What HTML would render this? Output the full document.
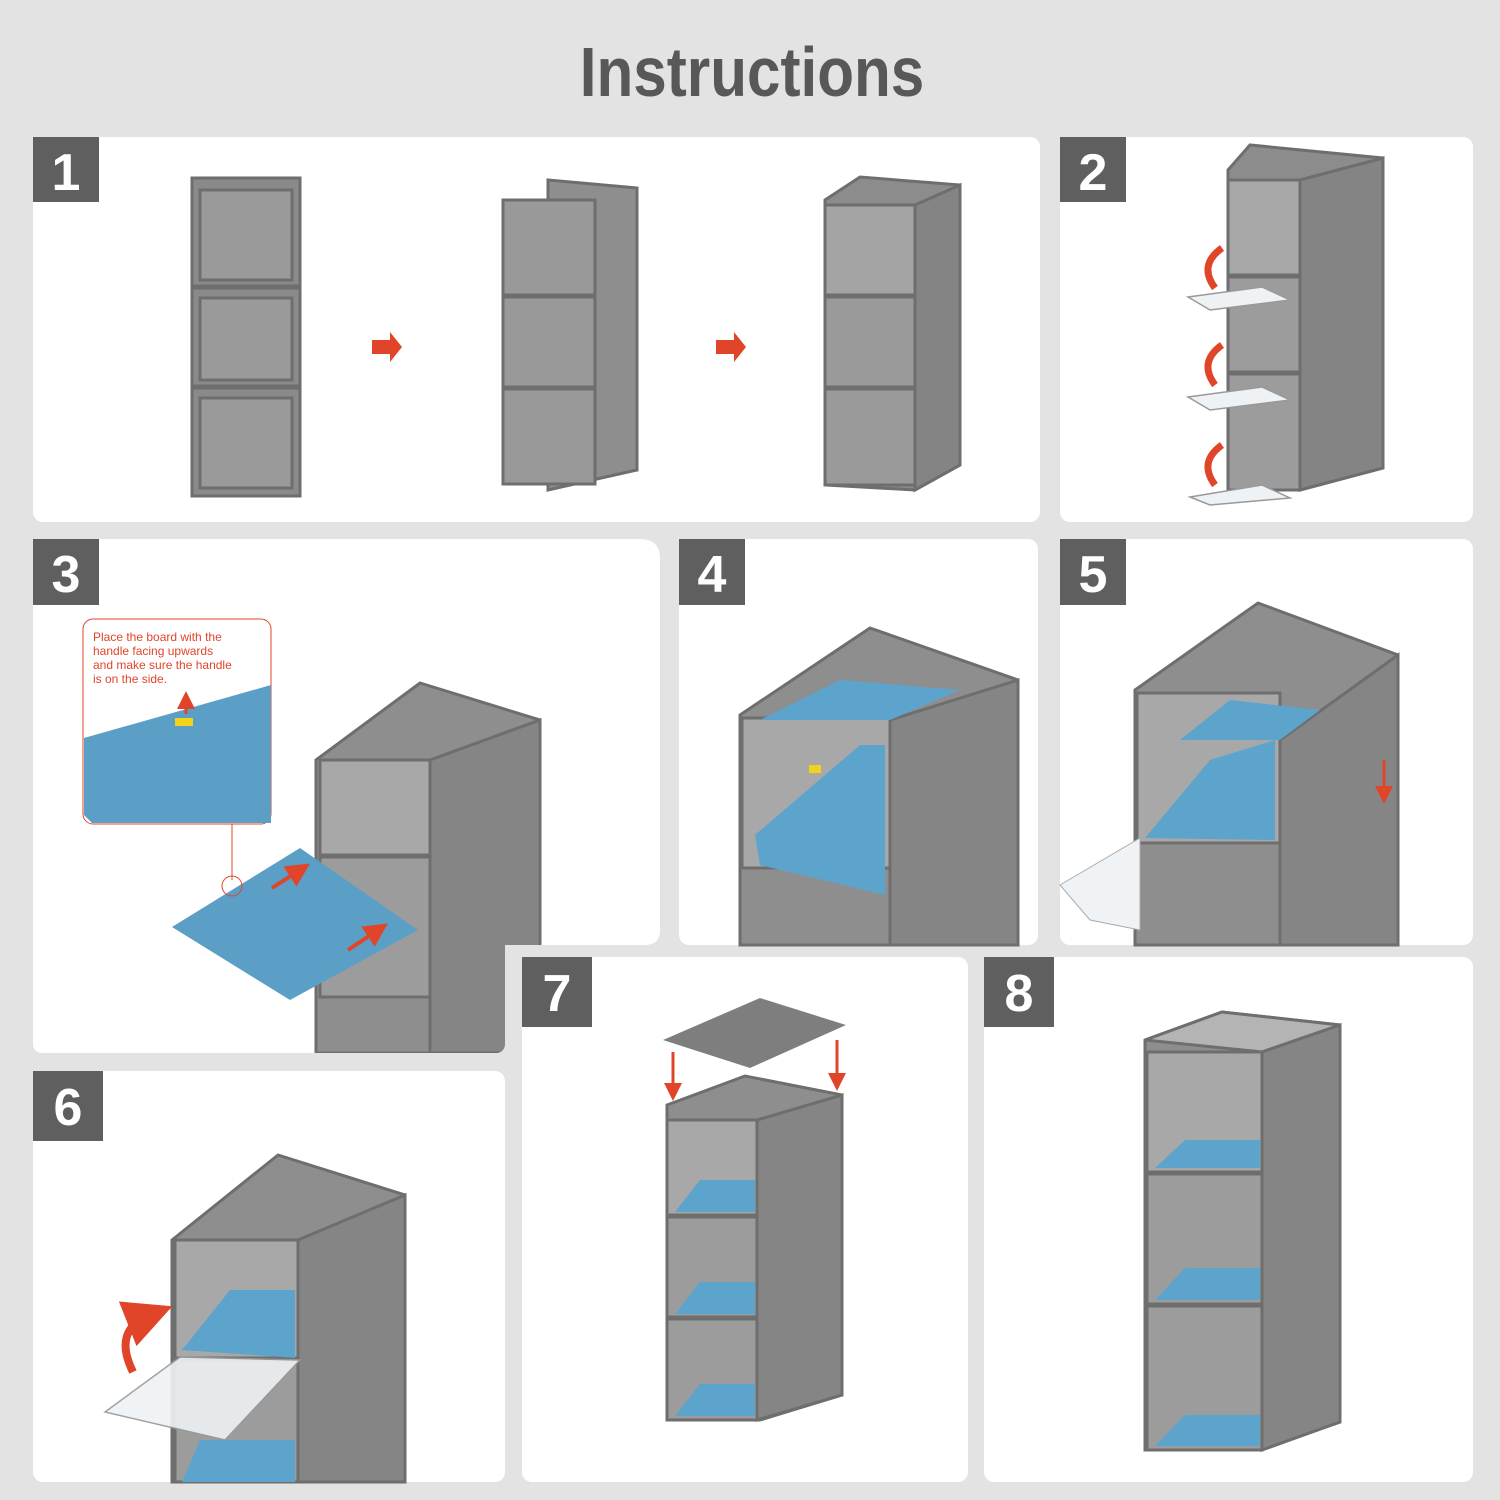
<!DOCTYPE html>
<html><head><meta charset="utf-8"><style>
body{margin:0;width:1500px;height:1500px;background:#e3e3e3;overflow:hidden}
svg{display:block}
</style></head><body>
<svg width="1500" height="1500" viewBox="0 0 1500 1500" xmlns="http://www.w3.org/2000/svg">
<defs>
<marker id="ah" markerWidth="6" markerHeight="6" refX="3" refY="3" orient="auto"><path d="M0,0L6,3L0,6z" fill="#e0452a"/></marker>
<clipPath id="c3"><path d="M43,539H640Q660,539 660,559V930Q660,945 645,945H505V1043Q505,1053 495,1053H43Q33,1053 33,1043V549Q33,539 43,539Z"/></clipPath>
</defs>
<rect width="1500" height="1500" fill="#e3e3e3"/>
<text x="0" y="96" transform="translate(752,0) scale(0.86,1)" text-anchor="middle" font-family="Liberation Sans, sans-serif" font-weight="bold" font-size="70" fill="#585858">Instructions</text>

<g fill="#fff">
<rect x="33" y="137" width="1007" height="385" rx="10"/>
<rect x="1060" y="137" width="413" height="385" rx="10"/>
<path d="M43,539H640Q660,539 660,559V930Q660,945 645,945H505V1043Q505,1053 495,1053H43Q33,1053 33,1043V549Q33,539 43,539Z"/>
<rect x="679" y="539" width="359" height="406" rx="10"/>
<rect x="1060" y="539" width="413" height="406" rx="10"/>
<rect x="522" y="957" width="446" height="525" rx="10"/>
<rect x="984" y="957" width="489" height="525" rx="10"/>
<rect x="33" y="1071" width="472" height="411" rx="10"/>
</g>

<g stroke="#6e6e6e" stroke-width="3">
<rect x="192" y="178" width="108" height="108" fill="#8a8a8a"/><rect x="192" y="288" width="108" height="98" fill="#8a8a8a"/><rect x="192" y="388" width="108" height="108" fill="#8a8a8a"/>
<rect x="200" y="190" width="92" height="90" fill="#9a9a9a"/><rect x="200" y="298" width="92" height="82" fill="#9a9a9a"/><rect x="200" y="398" width="92" height="90" fill="#9a9a9a"/>
</g>
<g stroke="#6e6e6e" stroke-width="3">
<polygon points="548,180 637,188 637,470 548,490" fill="#8e8e8e"/>
<rect x="503" y="200" width="92" height="95" fill="#999"/><rect x="503" y="297" width="92" height="90" fill="#999"/><rect x="503" y="389" width="92" height="95" fill="#999"/>
</g>
<g stroke="#6e6e6e" stroke-width="3">
<polygon points="825,200 860,177 960,185 960,465 915,490 825,485" fill="#8c8c8c"/>
<polygon points="915,205 960,185 960,465 915,490" fill="#848484"/>
<rect x="825" y="205" width="90" height="90" fill="#a4a4a4"/><rect x="825" y="297" width="90" height="90" fill="#9a9a9a"/><rect x="825" y="389" width="90" height="96" fill="#9a9a9a"/>
</g>
<polygon points="372,340 390,340 390,332 402,347 390,362 390,354 372,354" fill="#e0452a"/>
<polygon points="716,340 734,340 734,332 746,347 734,362 734,354 716,354" fill="#e0452a"/>

<g stroke="#6e6e6e" stroke-width="3">
<polygon points="1228,170 1250,145 1383,158 1383,468 1300,490 1228,490" fill="#8c8c8c"/>
<polygon points="1300,180 1383,158 1383,468 1300,490" fill="#848484"/>
<rect x="1228" y="180" width="72" height="95" fill="#a8a8a8"/><rect x="1228" y="277" width="72" height="95" fill="#9c9c9c"/><rect x="1228" y="374" width="72" height="116" fill="#9c9c9c"/>
</g>
<g fill="#eef2f4" stroke="#999" stroke-width="1.5">
<polygon points="1188,297 1262,287 1290,300 1210,310"/><polygon points="1188,397 1262,387 1290,400 1210,410"/><polygon points="1190,497 1262,485 1290,498 1210,505"/>
</g>
<g fill="none" stroke="#e0452a" stroke-width="7">
<path d="M1215,288 Q1198,265 1222,248"/><path d="M1215,385 Q1198,362 1222,345"/><path d="M1215,485 Q1198,462 1222,445"/>
</g>

<g clip-path="url(#c3)">
<g stroke="#6e6e6e" stroke-width="3">
<polygon points="316,760 420,683 540,720 540,1053 316,1053" fill="#8e8e8e"/>
<polygon points="430,760 540,720 540,1053 430,1053" fill="#858585"/>
<rect x="320" y="760" width="110" height="95" fill="#a8a8a8"/><rect x="320" y="857" width="110" height="140" fill="#9c9c9c"/>
</g>
<polygon points="172,927 300,848 418,930 290,1000" fill="#5b9fc6"/>
<rect x="83" y="619" width="188" height="205" rx="10" fill="#fff" stroke="#e0452a" stroke-width="1"/>
<polygon points="84,738 271,685 271,823 92,823 84,815" fill="#5b9fc6"/>
<rect x="175" y="718" width="18" height="8" fill="#f2d21b"/>
<line x1="186" y1="714" x2="186" y2="700" stroke="#e0452a" stroke-width="3" marker-end="url(#ah)"/>
<line x1="232" y1="824" x2="232" y2="880" stroke="#e0452a" stroke-width="1"/>
<circle cx="232" cy="886" r="10" fill="none" stroke="#e0452a"/>
<g font-family="Liberation Sans, sans-serif" font-size="12" fill="#e0452a">
<text x="93" y="641">Place the board with the</text><text x="93" y="655">handle facing upwards</text><text x="93" y="669">and make sure the handle</text><text x="93" y="683">is on the side.</text>
</g>
<line x1="272" y1="888" x2="300" y2="870" stroke="#e0452a" stroke-width="4" marker-end="url(#ah)"/>
<line x1="348" y1="950" x2="378" y2="930" stroke="#e0452a" stroke-width="4" marker-end="url(#ah)"/>
</g>

<g stroke="#6e6e6e" stroke-width="3">
<polygon points="740,715 870,628 1018,680 1018,945 890,945 740,945" fill="#8e8e8e"/>
<polygon points="890,720 1018,680 1018,945 890,945" fill="#858585"/>
<rect x="742" y="718" width="148" height="150" fill="#a8a8a8"/>
</g>
<polygon points="840,680 960,690 890,720 760,720" fill="#5ca4cc"/>
<polygon points="755,835 860,745 885,745 885,895 760,865" fill="#5ca4cc"/>
<rect x="809" y="765" width="12" height="8" fill="#f2d21b"/>

<g stroke="#6e6e6e" stroke-width="3">
<polygon points="1135,690 1258,603 1398,655 1398,945 1280,945 1135,945" fill="#8e8e8e"/>
<polygon points="1280,740 1398,655 1398,945 1280,945" fill="#858585"/>
<rect x="1137" y="693" width="143" height="150" fill="#a8a8a8"/>
</g>
<polygon points="1230,700 1320,710 1280,740 1180,740" fill="#5ca4cc"/>
<polygon points="1145,838 1210,760 1275,740 1275,840" fill="#5ca4cc"/>
<polygon points="1060,885 1140,838 1140,930 1090,920" fill="#f0f3f5" stroke="#aaa"/>
<line x1="1384" y1="760" x2="1384" y2="795" stroke="#e0452a" stroke-width="3" marker-end="url(#ah)"/>

<g stroke="#6e6e6e" stroke-width="3">
<polygon points="172,1240 278,1155 405,1195 405,1482 300,1482 172,1482" fill="#8e8e8e"/>
<polygon points="298,1240 405,1195 405,1482 298,1482" fill="#858585"/>
<rect x="175" y="1240" width="123" height="118" fill="#a8a8a8"/><rect x="175" y="1360" width="123" height="122" fill="#9c9c9c"/>
</g>
<polygon points="182,1350 230,1290 295,1290 295,1358" fill="#5ca4cc"/>
<polygon points="182,1482 200,1440 295,1440 295,1482" fill="#5ca4cc"/>
<polygon points="105,1412 180,1357 300,1360 225,1440" fill="#eef2f4" stroke="#999" stroke-width="1.5" opacity="0.9"/>
<path d="M133,1372 Q112,1330 150,1315" fill="none" stroke="#e0452a" stroke-width="8" marker-end="url(#ah)"/>

<polygon points="663,1040 760,998 846,1025 750,1068" fill="#7e7e7e"/>
<line x1="673" y1="1052" x2="673" y2="1092" stroke="#e0452a" stroke-width="3" marker-end="url(#ah)"/>
<line x1="837" y1="1040" x2="837" y2="1082" stroke="#e0452a" stroke-width="3" marker-end="url(#ah)"/>
<g stroke="#6e6e6e" stroke-width="3">
<polygon points="667,1105 745,1076 842,1095 842,1395 760,1420 667,1420" fill="#8e8e8e"/>
<polygon points="757,1120 842,1095 842,1395 757,1420" fill="#858585"/>
<rect x="667" y="1120" width="90" height="95" fill="#a8a8a8"/><rect x="667" y="1217" width="90" height="100" fill="#9c9c9c"/><rect x="667" y="1319" width="90" height="101" fill="#9c9c9c"/>
</g>
<g fill="#5ca4cc"><polygon points="675,1212 700,1180 755,1180 755,1212"/><polygon points="675,1314 700,1282 755,1282 755,1314"/><polygon points="675,1416 700,1384 755,1384 755,1416"/></g>

<g stroke="#6e6e6e" stroke-width="3">
<polygon points="1145,1040 1222,1012 1340,1025 1340,1422 1260,1450 1145,1450" fill="#8e8e8e"/>
<polygon points="1145,1040 1222,1012 1340,1025 1262,1052" fill="#b4b4b4"/>
<polygon points="1262,1052 1340,1025 1340,1422 1262,1450" fill="#858585"/>
<rect x="1147" y="1052" width="115" height="120" fill="#a8a8a8"/><rect x="1147" y="1174" width="115" height="130" fill="#9c9c9c"/><rect x="1147" y="1306" width="115" height="144" fill="#9c9c9c"/>
</g>
<g fill="#5ca4cc"><polygon points="1155,1168 1185,1140 1260,1140 1260,1168"/><polygon points="1155,1300 1185,1268 1260,1268 1260,1300"/><polygon points="1155,1446 1185,1415 1260,1415 1260,1446"/></g>

<g fill="#5f5f5f">
<rect x="33" y="137" width="66" height="65"/><rect x="1060" y="137" width="66" height="65"/>
<rect x="33" y="539" width="66" height="66"/><rect x="679" y="539" width="66" height="66"/>
<rect x="1060" y="539" width="66" height="66"/><rect x="522" y="957" width="70" height="70"/>
<rect x="984" y="957" width="70" height="70"/><rect x="33" y="1071" width="70" height="70"/>
</g>
<g fill="#fff" font-family="Liberation Sans, sans-serif" font-weight="bold" font-size="52" text-anchor="middle">
<text x="66" y="190">1</text><text x="1093" y="190">2</text><text x="66" y="592">3</text><text x="712" y="592">4</text>
<text x="1093" y="592">5</text><text x="557" y="1011">7</text><text x="1019" y="1011">8</text><text x="68" y="1125">6</text>
</g>
</svg>
</body></html>
